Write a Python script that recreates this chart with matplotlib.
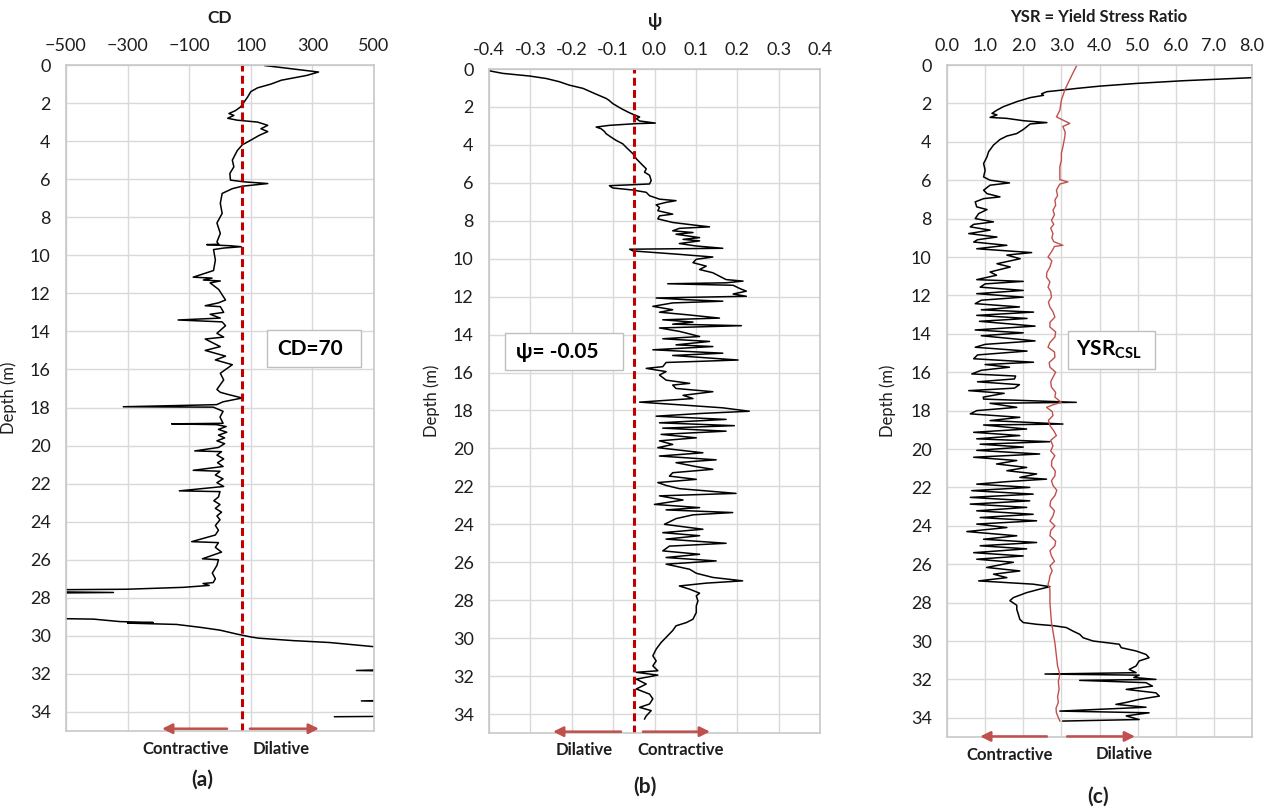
import matplotlib
matplotlib.use("Agg")
import matplotlib.pyplot as plt
from matplotlib.patches import Rectangle

plt.rcParams["font.family"] = ["Lato", "DejaVu Sans"]
plt.rcParams["mathtext.fontset"] = "custom"
plt.rcParams["mathtext.bf"] = "Lato:bold"
plt.rcParams["mathtext.rm"] = "Lato"

# ---------------- data ----------------
# (a) CD profile
cd_depth = [0.03, 0.37, 0.55, 0.8, 1.0, 1.2, 1.4, 1.7, 1.95, 2.2, 2.4, 2.55, 2.65, 2.8, 2.9,
            3.0, 3.17, 3.35, 3.5, 3.7, 3.95, 4.2, 4.5, 5.0, 5.35, 5.7, 6.05, 6.14, 6.23, 6.37,
            6.5, 6.75, 7.27, 7.8, 8.3, 8.85, 9.3, 9.42, 9.44, 9.5, 9.55, 9.62, 9.7, 10.25, 10.8,
            11.15, 11.2, 11.3, 11.35, 11.45, 11.8, 12.35, 12.5, 12.65, 12.7, 13.0, 13.1, 13.3,
            13.4, 13.5, 13.7, 14.1, 14.3, 14.4, 14.8, 15.0, 15.3, 15.5, 15.75, 16.2, 16.55,
            17.05, 17.2, 17.3, 17.5, 17.7, 17.85, 17.96, 17.98, 18.2, 18.5, 18.83, 18.86, 18.9,
            19.0, 19.15, 19.3, 19.45, 19.6, 19.75, 19.9, 20.1, 20.28, 20.32, 20.5, 20.7, 20.9,
            21.1, 21.3, 21.35, 21.55, 21.75, 21.95, 22.15, 22.38, 22.42, 22.7, 22.9, 23.1, 23.3,
            23.5, 23.7, 23.9, 24.2, 24.45, 24.7, 25.05, 25.1, 25.35, 25.6, 25.95, 26.0, 26.3,
            26.7, 27.0, 27.2, 27.25, 27.35, 27.45, 27.55, 27.62, 27.72, 27.8, 28.3, 28.9, 29.05,
            29.12, 29.25, 29.3, 29.33, 29.4, 29.55, 29.7, 29.9, 30.05, 30.12, 30.25, 30.35, 30.5,
            30.6, 30.7, 31.5, 31.75, 31.82, 31.86, 33.3, 33.42, 33.5, 34.2, 34.25]
cd_value = [146, 320, 281, 199, 166, 122, 100, 89, 78, 67, 50, 29, 45, 25, 56,
            122, 155, 133, 155, 127, 100, 72, 56, 40, 45, 32, 34, 78, 155, 72,
            40, 7, 1, 7, -10, 1, -10, -4, -43, 34, 69, 12, -21, -15, -21,
            -87, -26, -54, 1, -32, -4, 18, -5, -48, 1, 12, -32, 1,
            -136, 7, 18, -10, 12, -48, 1, -48, 18, -15, 40, 1, 12,
            -10, 1, 23, 72, 10, -11, -314, -22, 10, 0, 10, -157, -11,
            20, -5, 22, -5, 15, -10, 15, -5, -82, 5, -10, 12, -8,
            10, -87, 0, -15, 10, -10, 12, -132, 0, -5, -20, 0, -15,
            5, -10, 0, -15, -5, -15, -92, -5, -15, 5, -57, -5, -10,
            -25, -15, -22, -55, -35, -119, -303, -900, -346, -900, -1500, -1500, -700,
            -411, -325, -217, -300, -141, -65, 0, 53, 97, 124, 237, 356, 453,
            520, 800, 900, 600, 443, 600, 800, 459, 800, 800, 372]

# (b) state parameter psi
psi_depth = [0.05, 0.23, 0.37, 0.5, 0.67, 0.85, 1.02, 1.29, 1.55, 1.65, 1.82, 2.08, 2.26, 2.39,
             2.53, 2.62, 2.74, 2.85, 2.88, 2.97, 3.06, 3.15, 3.29, 3.41, 3.59, 3.76, 3.94, 4.2,
             4.47, 4.73, 5.0, 5.26, 5.44, 5.6, 5.88, 6.06, 6.1, 6.15, 6.27, 6.38, 6.5, 6.68,
             6.86, 6.94, 7.03, 7.16, 7.3, 7.47, 7.65, 7.74, 7.9, 8.09, 8.22, 8.32, 8.4, 8.53,
             8.62, 8.71, 8.89, 8.98, 9.06, 9.2, 9.33, 9.45, 9.5, 9.59, 9.77, 9.91, 10.03, 10.21,
             10.39, 10.57, 10.74, 10.92, 11.1, 11.18, 11.27, 11.32, 11.4, 11.57, 11.71, 11.86,
             11.98, 12.07, 12.16, 12.24, 12.33, 12.51, 12.69, 12.82, 12.95, 13.13, 13.22, 13.34,
             13.45, 13.53, 13.65, 13.83, 13.92, 14.1, 14.22, 14.36, 14.54, 14.63, 14.8, 14.98,
             15.1, 15.34, 15.47, 15.69, 15.78, 15.95, 16.13, 16.4, 16.57, 16.66, 16.84, 17.01,
             17.2, 17.37, 17.56, 17.7, 17.86, 18.04, 18.16, 18.3, 18.47, 18.65, 18.8, 18.93,
             19.09, 19.26, 19.44, 19.6, 19.79, 19.96, 20.23, 20.4, 20.6, 20.75, 20.96, 21.1,
             21.28, 21.46, 21.63, 21.8, 21.95, 22.12, 22.37, 22.5, 22.72, 22.95, 23.12, 23.24,
             23.38, 23.5, 23.7, 24.0, 24.26, 24.44, 24.6, 24.78, 25.0, 25.15, 25.4, 25.58,
             25.75, 25.93, 26.1, 26.37, 26.58, 26.8, 26.98, 27.1, 27.25, 27.42, 27.63, 27.77,
             28.04, 28.3, 28.65, 29.0, 29.18, 29.35, 29.6, 29.87, 30.23, 30.58, 30.93, 31.2,
             31.46, 31.72, 31.8, 31.95, 32.16, 32.42, 32.68, 32.95, 33.2, 33.47, 33.65, 33.82,
             34.1, 34.26]
psi_value = [-0.41, -0.367, -0.302, -0.262, -0.23, -0.206, -0.173, -0.145, -0.117, -0.11, -0.101,
             -0.081, -0.065, -0.052, -0.036, -0.044, -0.036, 0.002, -0.044, -0.109, -0.141,
             -0.129, -0.121, -0.117, -0.105, -0.093, -0.077, -0.065, -0.052, -0.044, -0.032,
             -0.02, -0.024, -0.012, -0.008, -0.012, -0.052, -0.109, -0.101, -0.052, -0.02,
             -0.012, 0.012, 0.052, 0.028, 0.004, 0.012, 0.008, 0.044, 0.012, 0.008, 0.044,
             0.093, 0.133, 0.06, 0.044, 0.093, 0.052, 0.109, 0.069, 0.109, 0.06, 0.101, 0.165,
             -0.06, -0.052, 0.06, 0.141, 0.101, 0.093, 0.125, 0.109, 0.141, 0.157, 0.173,
             0.214, 0.173, 0.032, 0.19, 0.206, 0.222, 0.19, 0.222, 0.004, 0.077, 0.165, 0.044,
             -0.004, 0.044, 0.012, 0.077, 0.157, 0.02, 0.093, 0.044, 0.21, 0.012, 0.06, 0.077,
             0.109, 0.02, 0.133, 0.052, 0.141, -0.004, 0.165, 0.044, 0.202, 0.028, 0.02, -0.02,
             0.028, 0.012, 0.028, 0.085, 0.044, 0.052, 0.141, 0.069, 0.093, -0.036, 0.06,
             0.165, 0.229, 0.109, 0.004, 0.173, 0.012, 0.193, 0.02, 0.173, 0.016, 0.101, 0.012,
             0.044, 0.008, 0.117, 0.012, 0.149, 0.052, 0.101, 0.141, 0.044, 0.036, 0.101,
             0.008, 0.028, 0.06, 0.197, 0.012, 0.069, 0.0, 0.109, 0.028, 0.189, 0.093, 0.052,
             0.024, 0.117, 0.02, 0.109, 0.028, 0.173, 0.036, 0.02, 0.109, 0.028, 0.149, 0.028,
             0.085, 0.101, 0.141, 0.213, 0.125, 0.06, 0.085, 0.109, 0.101, 0.105, 0.101, 0.101,
             0.093, 0.077, 0.052, 0.044, 0.032, 0.016, 0.004, -0.004, 0.004, -0.004, 0.008,
             -0.044, 0.008, -0.044, -0.02, -0.044, -0.012, -0.004, -0.012, -0.036, -0.008,
             -0.02, -0.024]

# (c) yield stress ratio
ysr_depth = [0.5, 0.66, 0.82, 0.96, 1.1, 1.22, 1.3, 1.39, 1.5, 1.58, 1.7, 1.91, 2.17, 2.35, 2.52,
             2.6, 2.73, 2.78, 2.9, 3.0, 3.07, 3.22, 3.36, 3.57, 3.7, 3.88, 4.17, 4.52, 4.78,
             5.13, 5.48, 5.83, 6.0, 6.14, 6.26, 6.52, 6.7, 6.87, 6.96, 7.13, 7.39, 7.53, 7.74,
             8.0, 8.17, 8.3, 8.43, 8.6, 8.78, 8.96, 9.1, 9.22, 9.39, 9.57, 9.77, 9.9, 10.09,
             10.35, 10.52, 10.78, 10.95, 11.18, 11.27, 11.4, 11.57, 11.74, 11.91, 12.09, 12.25,
             12.43, 12.6, 12.75, 12.87, 13.04, 13.2, 13.35, 13.6, 13.8, 13.95, 14.1, 14.37,
             14.55, 14.7, 14.9, 15.1, 15.3, 15.48, 15.6, 15.74, 15.9, 16.09, 16.2, 16.35, 16.5,
             16.65, 16.83, 16.96, 17.1, 17.3, 17.4, 17.57, 17.62, 17.83, 18.0, 18.17, 18.35,
             18.52, 18.7, 18.75, 18.96, 19.13, 19.3, 19.47, 19.62, 19.75, 19.9, 20.07, 20.26,
             20.43, 20.6, 20.78, 20.96, 21.13, 21.3, 21.48, 21.57, 21.7, 21.83, 22.0, 22.17,
             22.35, 22.52, 22.7, 22.87, 23.04, 23.22, 23.4, 23.57, 23.74, 23.91, 24.09, 24.3,
             24.52, 24.7, 24.87, 25.04, 25.2, 25.4, 25.57, 25.74, 25.9, 26.17, 26.35, 26.52,
             26.7, 26.87, 27.04, 27.17, 27.3, 27.48, 27.74, 27.9, 28.14, 28.35, 28.6, 28.87,
             29.04, 29.13, 29.2, 29.3, 29.48, 29.65, 29.83, 30.0, 30.17, 30.35, 30.52, 30.7,
             30.87, 31.04, 31.3, 31.48, 31.65, 31.72, 31.78, 31.9, 32.0, 32.05, 32.17, 32.35,
             32.52, 32.7, 32.87, 33.04, 33.2, 33.3, 33.45, 33.65, 33.74, 33.9, 34.09, 34.17]
ysr_value = [11.0, 8.0, 6.19, 4.97, 4.01, 3.4, 3.05, 2.62, 2.48, 2.53, 2.18, 1.83, 1.48, 1.31,
             1.18, 1.31, 1.13, 1.57, 2.0, 2.62, 2.18, 2.09, 2.0, 1.83, 1.57, 1.39, 1.22, 1.09,
             1.05, 0.96, 1.0, 0.96, 1.13, 1.64, 1.13, 0.96, 1.05, 1.39, 0.96, 0.74, 0.78, 1.05,
             0.83, 0.74, 1.22, 0.7, 0.61, 1.13, 0.57, 1.31, 0.8, 0.7, 1.57, 0.78, 2.22, 1.57,
             1.92, 1.31, 1.66, 1.13, 1.3, 0.78, 2.0, 1.0, 0.87, 2.0, 0.78, 2.0, 0.9, 0.74, 1.9,
             0.9, 2.27, 0.78, 2.1, 0.85, 2.31, 0.74, 2.0, 0.9, 2.31, 1.0, 0.74, 2.1, 0.8, 0.7,
             2.27, 1.0, 1.64, 0.9, 0.65, 1.8, 1.77, 0.8, 1.9, 1.77, 0.57, 1.5, 0.95, 0.96, 3.39,
             1.13, 1.83, 0.78, 0.61, 1.91, 1.13, 3.04, 0.96, 2.09, 0.7, 1.91, 0.78, 2.7, 0.87,
             2.0, 0.78, 2.43, 0.7, 1.83, 1.3, 2.09, 1.57, 2.35, 1.91, 2.61, 1.57, 0.78, 2.17,
             0.65, 2.26, 0.61, 2.17, 0.61, 2.09, 0.78, 2.26, 0.87, 2.35, 0.78, 1.57, 0.52, 1.83,
             0.96, 2.35, 0.87, 2.09, 0.7, 2.0, 0.78, 1.74, 1.04, 1.91, 1.22, 1.57, 0.83, 2.26,
             2.7, 2.43, 2.09, 1.74, 1.65, 1.83, 1.83, 1.87, 1.91, 2.0, 2.35, 2.78, 3.13, 3.3,
             3.48, 3.57, 3.83, 4.52, 4.57, 4.96, 5.22, 5.3, 5.04, 4.96, 4.78, 4.96, 2.57, 5.04,
             4.9, 5.48, 3.48, 5.22, 5.39, 4.7, 5.48, 5.57, 5.04, 4.7, 4.43, 5.22, 2.96, 5.3,
             4.7, 5.04, 3.04]

csl_depth = [0.0, 0.43, 0.96, 1.3, 1.83, 2.35, 2.6, 2.7, 2.87, 3.04, 3.2, 3.5, 3.74, 4.26, 4.6,
             4.96, 5.3, 5.65, 5.97, 6.09, 6.2, 6.52, 6.8, 7.04, 7.3, 7.57, 7.8, 8.09, 8.3, 8.5,
             8.78, 9.0, 9.2, 9.39, 9.45, 9.7, 10.0, 10.2, 10.52, 10.8, 11.04, 11.3, 11.57, 11.8,
             12.09, 12.35, 12.61, 12.85, 13.13, 13.4, 13.65, 13.9, 14.17, 14.45, 14.7, 14.95,
             15.22, 15.5, 15.74, 16.0, 16.26, 16.5, 16.78, 17.05, 17.3, 17.57, 17.7, 17.83,
             18.05, 18.26, 18.5, 18.78, 19.05, 19.3, 19.55, 19.83, 20.1, 20.35, 20.6, 20.87,
             21.15, 21.4, 21.65, 21.9, 22.15, 22.43, 22.7, 22.96, 23.22, 23.48, 23.75, 24.0,
             24.25, 24.52, 24.8, 25.04, 25.3, 25.57, 25.85, 26.09, 26.35, 26.6, 26.85, 27.04,
             27.3, 28.0, 29.04, 30.09, 30.78, 31.3, 31.74, 32.1, 32.52, 32.9, 33.2, 33.5, 33.74,
             34.17]
csl_value = [3.41, 3.3, 3.17, 3.09, 3.0, 2.96, 2.9, 2.87, 3.04, 3.22, 3.04, 3.1, 3.09, 3.04, 3.0,
             3.0, 2.96, 2.96, 2.96, 3.17, 2.96, 2.87, 2.9, 2.83, 2.85, 2.78, 2.82, 2.74, 2.8,
             2.72, 2.78, 2.75, 2.8, 3.04, 2.82, 2.75, 2.65, 2.75, 2.7, 2.62, 2.61, 2.7, 2.65,
             2.72, 2.74, 2.66, 2.7, 2.78, 2.83, 2.7, 2.7, 2.85, 2.83, 2.7, 2.65, 2.82, 2.83,
             2.68, 2.7, 2.85, 2.78, 2.72, 2.74, 2.85, 2.83, 3.0, 2.78, 2.61, 2.76, 2.78, 2.66,
             2.7, 2.8, 2.87, 2.72, 2.78, 2.72, 2.83, 2.75, 2.74, 2.84, 2.83, 2.74, 2.78, 2.88,
             2.83, 2.72, 2.7, 2.82, 2.78, 2.7, 2.83, 2.72, 2.7, 2.85, 2.83, 2.7, 2.74, 2.82,
             2.7, 2.76, 2.7, 2.68, 2.65, 2.7, 2.7, 2.74, 2.83, 2.87, 2.9, 2.96, 2.92, 2.94,
             2.9, 2.92, 2.86, 2.87, 2.96]

cd_ticks = [-500, -300, -100, 100, 300, 500]
psi_ticks = [-0.4, -0.3, -0.2, -0.1, 0.0, 0.1, 0.2, 0.3, 0.4]
ysr_ticks = [0, 1, 2, 3, 4, 5, 6, 7, 8]
depth_ticks = list(range(0, 35, 2))

cd_limit = 70
psi_limit = -0.05

# ---------------- figure ----------------
W, H = 1276, 811
fig = plt.figure(figsize=(W / 100, H / 100), dpi=100)


def fx(x):
    return x / W


def fy(y):
    return 1 - y / H


def make_axes(left, top, right, bottom):
    return fig.add_axes([fx(left), fy(bottom), fx(right) - fx(left), (bottom - top) / H])


ax_a = make_axes(66, 65, 374, 731)
ax_b = make_axes(489, 69, 820, 733)
ax_c = make_axes(947, 65, 1252, 737)

txt_col = "#1e1e1e"
grid_col = "#d9d9d9"
arrow_col = "#c0504d"

for ax, xlim, ticks, lbl_x in [(ax_a, (-500, 500), cd_ticks, -0.16),
                               (ax_b, (-0.4, 0.4), psi_ticks, -0.148),
                               (ax_c, (0, 8), ysr_ticks, -0.166)]:
    ax.set_xlim(*xlim)
    ax.set_ylim(35, 0)
    ax.set_xticks(ticks)
    ax.set_yticks(depth_ticks)
    ax.xaxis.tick_top()
    ax.grid(True, color=grid_col, lw=1.0)
    ax.set_axisbelow(True)
    ax.tick_params(length=0, labelsize=13, colors=txt_col)
    ax.tick_params(axis="x", pad=8)
    ax.tick_params(axis="y", pad=11)
    for s in ax.spines.values():
        s.set_color("#c8c8c8")
        s.set_linewidth(1.2)
    ax.set_ylabel("Depth (m)", fontsize=12, color=txt_col)
    ax.yaxis.set_label_coords(lbl_x, 0.5)

ax_b.set_xticklabels([f"{t:.1f}" for t in psi_ticks])
ax_c.set_xticklabels([f"{t:.1f}" for t in ysr_ticks])

# traces
ax_a.plot(cd_value, cd_depth, color="black", lw=1.1)
ax_a.axvline(cd_limit, color="#c00000", lw=2.2, ls=(0, (2.6, 1.4)))

ax_b.plot(psi_value, psi_depth, color="black", lw=1.1)
ax_b.axvline(psi_limit, color="#c00000", lw=2.2, ls=(0, (2.6, 1.4)))

ax_c.plot(ysr_value, ysr_depth, color="black", lw=1.1)
ax_c.plot(csl_value, csl_depth, color="#c0504d", lw=1.0)

# annotation boxes
for ax, rect, label, tx in [(ax_a, (0.653, 0.5465, 0.305, 0.0555), "CD=70", 0.793),
                            (ax_b, (0.048, 0.5467, 0.357, 0.0556), "\u03c8= -0.05", 0.207),
                            (ax_c, (0.397, 0.548, 0.285, 0.056), r"$\mathbf{YSR_{CSL}}$", 0.53)]:
    ax.add_patch(Rectangle(rect[:2], rect[2], rect[3], transform=ax.transAxes,
                           facecolor="white", edgecolor="#bfbfbf", lw=1.0, zorder=5))
    ax.text(tx, rect[1] + rect[3] / 2, label, transform=ax.transAxes, ha="center",
            va="center", fontsize=15, fontweight="bold", color="black", zorder=6)

# direction arrows
def arrow(ax, x0, x1, y):
    ax.annotate("", xy=(x1, y), xytext=(x0, y),
                arrowprops=dict(arrowstyle="-|>", color=arrow_col, lw=1.8,
                                mutation_scale=15, shrinkA=0, shrinkB=0),
                annotation_clip=False, zorder=7)


arrow(ax_a, 23, -188, 34.88)
arrow(ax_a, 97, 321, 34.88)
arrow(ax_b, -0.081, -0.245, 34.93)
arrow(ax_b, -0.028, 0.134, 34.93)
arrow(ax_c, 2.62, 0.87, 34.97)
arrow(ax_c, 3.15, 4.93, 34.97)

# titles and labels
bold = dict(fontweight="bold", color=txt_col, ha="center", va="center")
fig.text(fx(220), fy(18), "CD", fontsize=12.5, **bold)
fig.text(fx(655), fy(21), "\u03c8", fontsize=13, **bold)
fig.text(fx(1099), fy(17), "YSR = Yield Stress Ratio", fontsize=12, **bold)

for x, y, s in [(186, 749, "Contractive"), (281, 749, "Dilative"),
                (584, 750, "Dilative"), (681, 750, "Contractive"),
                (1010, 755, "Contractive"), (1124, 754, "Dilative")]:
    fig.text(fx(x), fy(y), s, fontsize=12, **bold)

for x, y, s in [(202, 780, "(a)"), (645, 787, "(b)"), (1098, 797, "(c)")]:
    fig.text(fx(x), fy(y), s, fontsize=15, **bold)

fig.savefig("out.png", dpi=100)
